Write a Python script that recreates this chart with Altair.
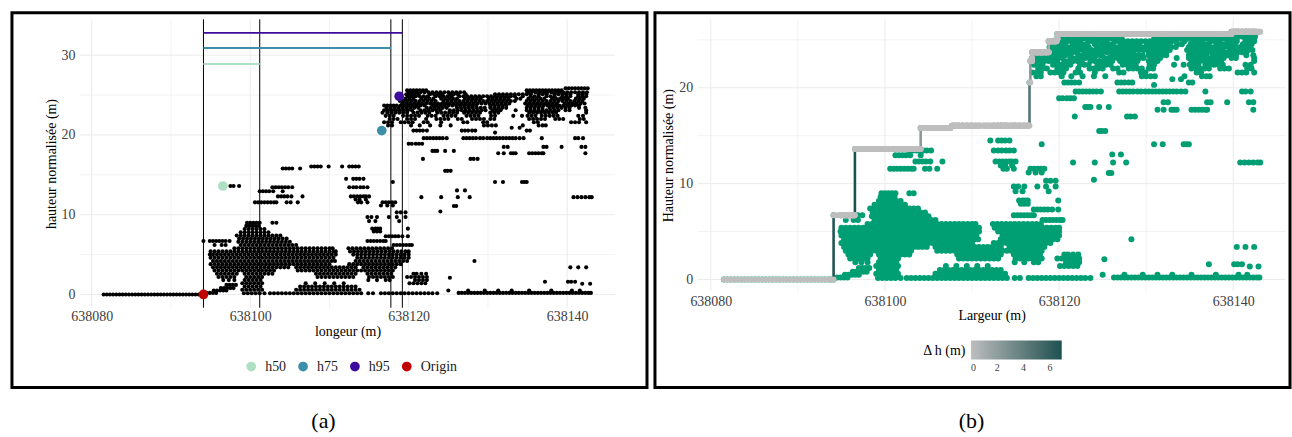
import altair as alt
import pandas as pd

FONT = "Liberation Serif"
X0 = 638000  # positions below are offsets from this easting

# ---- point cloud: (height m, "positions") rows ------------------------------
GROUND_LEFT = [
    (0.0, "81.5 81.9 82.3 82.7 83.1 83.5 83.9 84.3 84.7 85.1 85.5 85.9 86.3 86.7 87.1 87.5 87.9 88.3 "
          "88.7 89.1 89.5 89.9 90.3 90.7 91.1 91.5 91.9 92.3 92.7 93.1 93.5 93.8 94.1"),
]

NEAR_ORIGIN = [
    (0.2, "94.5 94.9 95.3 95.7"),
    (0.5, "95.4 95.8 96.2 96.6 97.0"),
    (0.8, "96.3 96.7 97.1 97.5 97.9"),
    (1.2, "97.0 97.4 97.8 98.2"),
]

LOW_CLUSTER = [
    (9.0, "99.6 100.0 100.4 100.8 101.2 102.8 103.3"),
    (8.6, "99.5 99.9 100.3 100.7 101.1"),
    (8.2, "99.3 99.8 100.3 100.8 101.3 101.8"),
    (7.8, "98.8 99.3 99.8 100.3 100.8 101.3 101.8 102.3"),
    (7.4, "98.3 98.8 99.3 99.8 100.3 100.8 101.3 101.8 102.3 102.8 103.3 103.8"),
    (7.0, "98.6 99.1 99.6 100.1 100.6 101.1 101.6 102.1 102.6 103.1 103.6 104.1 104.6"),
    (6.7, "94.1 94.9 95.3 95.7 96.1 96.5 96.9 97.4 114.8 115.2 115.6 116.0 116.4 116.8 117.1"),
    (6.6, "98.5 99.0 99.5 100.0 100.5 101.0 101.5 102.0 102.5 103.0 103.5 104.0 104.5 105.0"),
    (6.2, "95.5 96.4 96.9 98.8 99.3 99.8 100.3 100.8 101.3 101.8 102.3 102.8 103.3 103.8 104.3 104.8 "
          "105.3 105.8 118.1 118.5 118.9 119.3 119.7 120.1 120.4"),
    (5.8, "98.0 98.5 99.0 99.5 100.0 100.5 101.0 101.5 102.0 102.5 103.0 103.5 104.0 104.5 105.0 105.5 "
          "106.0 106.5 107.0 107.5 108.0 108.5 109.0 109.5 110.0 110.4 112.4 112.9 113.4 113.9 114.4 "
          "114.9 115.4 115.9 116.4 116.9 117.4 117.9"),
    (5.4, "95.0 95.5 96.0 96.5 97.0 97.5 98.0 98.5 99.0 99.5 100.0 100.5 101.0 101.5 102.0 102.5 103.0 "
          "103.5 104.0 104.5 105.0 105.5 106.0 106.5 107.0 107.5 108.0 108.5 109.0 109.5 110.0 110.5 "
          "110.8 112.6 113.1 113.6 114.1 114.6 115.1 115.6 116.1 116.6 117.1 117.6 118.1 118.6 119.1 "
          "119.6 120.0"),
    (5.0, "94.9 95.3 95.8 96.3 96.8 97.3 97.8 98.3 98.8 99.3 99.8 100.3 100.8 101.3 101.8 102.3 102.8 "
          "103.3 103.8 104.3 104.8 105.3 105.8 106.3 106.8 107.3 107.8 108.3 108.8 109.3 109.8 110.3 "
          "110.8 113.0 113.5 114.0 114.5 115.0 115.5 116.0 116.5 117.0 117.5 118.0 118.5 119.0 119.5 "
          "120.0"),
    (4.6, "95.0 95.5 96.0 96.5 97.0 97.5 98.0 98.5 99.0 99.5 100.0 100.5 101.0 101.5 102.0 102.5 103.0 "
          "103.5 104.0 104.5 105.0 105.5 106.0 106.5 107.0 107.5 108.0 108.5 109.0 109.5 110.0 110.5 "
          "113.5 114.0 114.5 115.0 115.5 116.0 116.5 117.0 117.5 118.0 118.5 119.0 119.5 120.0"),
    (4.2, "95.3 95.8 96.3 96.8 97.3 97.8 98.3 98.8 99.3 99.8 100.3 100.8 101.3 101.8 102.3 102.8 103.3 "
          "103.8 104.3 104.8 105.3 105.8 106.3 106.8 107.3 107.8 108.3 108.8 109.3 109.8 110.3 110.7 "
          "113.3 113.8 114.3 114.8 115.3 115.8 116.3 116.8 117.3 117.8 118.3 118.8 119.3 119.8"),
    (3.8, "95.0 95.5 96.0 96.5 97.0 97.5 98.0 98.5 99.0 99.5 100.0 100.5 101.0 101.5 102.0 102.5 103.0 "
          "103.5 104.0 104.5 105.0 105.5 106.0 106.5 107.0 107.5 108.0 108.5 109.0 109.5 110.0 112.5 "
          "113.0 113.5 114.0 114.5 115.0 115.5 116.0 116.5 117.0 117.5 118.0 118.5 119.0"),
    (3.4, "95.3 95.8 96.3 96.8 97.3 97.8 98.3 98.8 99.3 99.8 100.3 100.8 101.3 101.8 102.3 102.8 103.3 "
          "103.8 104.3 104.8 105.8 106.3 106.8 107.3 107.8 108.3 108.8 109.3 109.8 110.3 110.8 111.3 "
          "111.8 112.3 112.8 113.3 114.3 114.8 115.3 115.8 116.3 116.8 117.3 117.8 118.3"),
    (3.0, "95.5 96.0 96.5 97.0 97.5 98.0 98.5 99.0 99.5 100.0 100.5 101.0 101.5 102.0 102.5 103.0 106.0 "
          "106.5 107.0 107.5 108.0 108.5 109.0 109.5 110.0 110.5 111.0 111.5 112.0 112.5 113.0 113.5 "
          "114.0 114.5 115.0 115.5 116.0 116.5 117.0 117.5 118.0"),
    (2.6, "95.8 96.3 96.8 97.3 97.8 98.3 99.3 99.8 100.3 100.8 101.3 101.8 102.3 102.8 108.3 108.8 109.3 "
          "109.8 110.3 110.8 111.3 111.8 112.3 112.8 113.3 114.8 115.3 115.8 116.3 116.8 117.3 117.8 "
          "120.6 121.0 121.6 122.2"),
    (2.2, "96.0 96.5 97.0 97.5 98.0 99.5 100.0 100.5 101.0 101.5 108.5 109.0 109.5 110.0 110.5 111.0 "
          "111.5 112.0 112.5 113.0 115.0 115.5 116.0 116.5 117.0 117.5 118.0 119.8 120.3 120.8 121.3 "
          "121.8 122.3"),
    (1.8, "96.6 97.3 98.0 99.3 99.8 100.3 100.8 101.3 114.9 116.0 117.1 117.6 120.8 121.3 121.8 122.3"),
    (1.4, "99.0 99.5 100.0 100.5 101.0 101.5 107.0 108.2 109.4 110.6 111.8 120.1 120.6 121.1 121.6 122.1"),
    (1.0, "99.3 99.8 100.3 100.8 101.3 106.3 106.8 107.3 107.8 108.3 108.8 109.3 109.8 110.3 110.8 111.3 "
          "111.8 112.3 112.8 113.3"),
    (0.6, "99.0 99.5 100.0 100.5 101.0 101.5 105.8 106.3 106.8 107.3 107.8 108.3 108.8 109.3 109.8 110.3 "
          "110.8 111.3 111.8 112.3 112.8 113.3 113.8"),
    (0.15, "99.2 99.7 100.2 100.7 101.2 101.8 102.5 103.0 103.5 104.0 104.5 105.0 105.5 106.0 106.5 107.0 "
           "107.5 108.0 108.5 109.0 109.5 110.0 110.5 111.0 111.5 112.0 112.5 113.0 113.5 114.0 114.9 "
           "115.5 116.5 117.0 117.5 118.0 118.5 119.0 119.5 120.0 120.5 121.0 121.5 122.0 122.5 123.0 "
           "123.6"),
]

MID_LEVEL = [
    (16.05, "107.7 108.1 108.5 108.9 109.9 111.6 112.5 112.9 113.3 113.7"),
    (15.8, "104.1 104.5 104.9 105.3 106.3"),
    (14.5, "112.1 113.0 113.4 113.8 114.3"),
    (13.6, "96.55 97.5 97.9 98.6"),
    (13.45, "102.8 103.2 103.6 104.0 104.4 104.8 105.3 112.5 113.0 113.4 113.9 114.3 114.8"),
    (12.95, "101.2 101.6 102.0 102.4 102.9 104.1"),
    (12.3, "103.5 103.9 104.3 104.7 105.2 106.6 112.7 113.1 113.5 113.9 114.3 114.6 115.0"),
    (11.9, "113.3 113.8 114.6"),
    (11.55, "100.6 101.0 101.4 101.8 102.2 102.6 103.0 103.3 104.6 105.1 106.0 113.6 114.0 114.8 116.7 "
            "117.1 117.5 117.9 118.3"),
    (11.15, "116.5 117.3 118.0"),
    (10.3, "118.5 119.0 119.6"),
    (9.7, "114.8 115.3 116.0 117.5 118.5 119.6"),
    (9.2, "115.0 115.8 118.8"),
    (8.25, "115.4 115.8 116.1 116.4 119.9"),
    (7.9, "115.6 116.0 116.4"),
    (7.3, "117.1 117.5 117.9 118.3 118.7 119.2 119.9"),
]

CANOPY = [
    (25.85, "139.8 140.2 140.6 141.0 141.4 141.8 142.2 142.6"),
    (25.6, "119.8 120.2 120.6 121.0 121.4 121.8 122.2 134.9 135.3 135.7 136.1 136.5 136.9 137.3 137.7 "
           "138.1 138.5 138.9 139.3"),
    (25.35, "120.0 120.5 121.0 121.5 122.0 122.5 123.0 123.5 124.0 124.5 125.0 125.5 126.0 126.5 127.0 "
            "135.0 135.5 136.0 136.5 137.0 137.5 138.0 138.5 139.0 139.5 140.0 140.5 141.0 141.5 142.0 "
            "142.5"),
    (25.1, "119.7 120.2 120.7 121.2 122.7 123.2 123.7 124.2 125.2 125.7 126.2 127.2 130.9 131.4 131.9 "
           "132.4 132.9 133.4 133.9 134.4 134.9 135.4 136.4 136.9 137.4 138.4 138.9 139.4 139.9 140.4 "
           "141.4 141.9 142.4"),
    (24.85, "118.8 119.9 120.4 120.9 121.4 121.9 122.4 123.4 123.9 124.4 124.9 125.4 126.4 126.9 127.4 "
            "127.9 128.4 128.9 129.4 129.9 130.4 130.9 131.4 131.9 132.4 132.9 133.4 134.4 135.4 135.9 "
            "136.4 137.4 137.9 138.4 139.4 139.9 140.4 141.4 141.9 142.4"),
    (24.55, "119.1 119.6 120.1 120.6 121.6 122.1 122.6 123.1 124.1 124.6 125.1 125.6 126.1 127.1 127.6 "
            "128.1 128.6 129.1 130.1 130.6 131.1 131.6 132.1 132.6 133.6 134.1 135.1 135.6 136.1 136.6 "
            "137.1 138.1 138.6 139.1 139.6 140.1 141.1 141.6 142.1"),
    (24.25, "118.9 119.4 119.9 120.4 120.9 121.4 121.9 122.4 122.9 123.4 124.4 124.9 125.4 125.9 126.4 "
            "126.9 127.4 127.9 128.4 128.9 129.4 129.9 130.4 130.9 131.4 131.9 132.4 132.9 133.4 134.9 "
            "135.4 135.9 136.4 136.9 137.4 137.9 138.4 138.9 139.4 139.9 140.4 140.9 141.4 141.9"),
    (23.95, "119.2 119.7 120.2 120.7 121.2 121.7 122.2 122.7 123.2 123.7 124.2 124.7 125.2 125.7 126.2 "
            "126.7 127.2 127.7 128.2 128.7 129.2 129.7 130.2 130.7 131.2 131.7 132.2 132.7 134.7 135.2 "
            "135.7 136.2 136.7 137.2 137.7 138.2 138.7 139.7 140.2 140.7 141.2 141.7 142.2"),
    (23.7, "116.9 117.3 117.7 118.1 118.5 119.0 119.5 120.0 120.5 121.0 121.5 122.0 123.0 123.5 124.0 "
           "124.5 125.0 125.5 126.0 126.5 127.0 127.5 128.0 128.5 130.3 130.8 131.3 131.8 132.3 135.0 "
           "135.5 136.0 136.5 137.0 137.5 138.0 138.5 139.0 139.5 140.0 140.5 141.0 141.5"),
    (23.4, "117.2 117.7 118.2 118.7 119.2 119.7 120.2 120.7 121.2 122.3 122.8 123.3 123.8 124.3 124.8 "
           "126.1 126.6 127.1 127.6 128.1 128.6 129.1 129.6 130.3 130.8 131.3 131.8 132.3 134.9 135.4 "
           "135.9 136.4 136.9 137.8 138.3 138.8 139.3 139.8 140.3 141.5 142.3"),
    (23.1, "116.9 117.4 117.9 118.4 118.9 119.4 119.9 120.4 121.5 122.0 122.5 123.0 123.5 124.0 125.2 "
           "125.7 126.2 126.7 127.2 127.7 128.2 128.7 129.2 129.7 130.6 131.1 131.6 133.5 134.9 135.4 "
           "135.9 136.4 136.9 137.4 137.9 138.4 138.9 139.8 140.3 142.4"),
    (22.8, "116.7 117.3 117.8 118.3 118.8 119.3 119.8 120.6 121.1 121.6 122.1 122.6 123.6 124.1 124.6 "
           "125.1 125.6 126.1 127.0 127.5 128.0 128.5 129.0 130.3 130.8 131.3 135.2 135.7 136.2 136.7 "
           "137.2 137.7 138.2 138.6 142.4"),
    (22.4, "117.1 117.6 118.1 119.3 119.8 120.3 120.8 121.3 122.4 122.9 123.4 124.4 124.9 125.4 125.9 "
           "127.3 127.8 128.3 128.8 130.4 130.9 133.2 134.3 135.0 135.5 136.0 136.8 137.3 137.8 138.3 "
           "138.8 141.4 142.0"),
    (22.0, "117.6 118.1 118.6 119.8 120.3 120.8 122.2 123.5 124.0 124.5 125.0 126.2 126.7 128.0 128.5 "
           "129.0 129.5 130.3 130.8 135.2 135.7 136.2 136.7 137.2 138.5 139.0 139.5 141.6 142.1"),
    (21.6, "116.9 117.4 117.9 119.0 119.5 120.0 120.5 121.9 122.4 124.1 126.9 127.4 129.4 129.9 135.8 "
           "136.3 140.5 141.0 141.5 142.4"),
    (21.2, "117.4 117.9 120.3 121.4 122.7 124.0 125.3 129.5 130.0 130.5 131.0 134.4 136.4 136.9 137.3"),
    (20.9, "133.0 134.0"),
    (20.55, "116.6 120.6 121.0 121.4 121.8 122.3 126.7 127.1 127.5 128.0 128.4 134.9 135.3"),
    (20.3, "130.9"),
    (19.6, "121.9 122.3 122.7 123.1 123.5 123.9 124.3 124.8 126.9 127.3 127.7 128.1 128.5 129.0 129.4 "
           "129.9 130.3 130.7 131.1 131.5 131.9 132.3 132.7 133.1 133.5 134.0 134.5 136.8 141.0 141.4 "
           "142.0"),
    (18.9, "120.0 120.4 120.9 121.3 121.7"),
    (18.5, "132.0 132.5 137.0 137.4 139.3 141.8 142.3"),
    (18.0, "123.0 123.3 123.6 124.6 125.7"),
    (17.7, "131.3 132.0 132.9 133.2 133.5 135.2 135.6 136.0 136.4 136.8 137.0 142.3"),
    (17.0, "121.8 127.8 128.2 128.7"),
    (15.5, "124.6 124.9 125.3"),
    (14.1, "118.0 130.9 131.9 134.3 134.6 134.9"),
    (13.05, "126.1 127.1"),
    (12.2, "121.6 124.1 126.2 127.7 140.8 141.3 141.8 142.3 142.8 143.1"),
    (11.1, "125.7 126.0"),
    (10.4, "124.0"),
]

RIGHT_LOW = [
    (4.2, "128.3"),
    (3.4, "140.4 141.4 142.4"),
    (2.1, "125.2"),
    (1.6, "137.2 140.1 140.5 141.0"),
    (1.35, "141.9 142.9"),
    (0.5, "125.0 127.5 129.6 131.3 133.0 135.2 138.0 140.6 141.6"),
    (0.2, "126.3 126.7 127.1 127.5 127.9 128.3 128.7 129.1 129.5 129.9 130.3 130.7 131.1 131.5 131.9 "
          "132.3 132.7 133.1 133.5 133.9 134.3 134.7 135.1 135.5 135.9 136.3 136.7 137.1 137.5 137.9 "
          "138.3 138.7 139.1 139.5 139.9 140.3 140.7 141.1 141.5 141.9 142.3 142.7 143.0"),
]

# ---- reference heights (panel a) --------------------------------------------
MARK_NAMES = ["h50", "h75", "h95", "Origin"]
MARK_X = [96.55, 116.6, 118.8, 94.1]
MARK_H = [13.6, 20.55, 24.85, 0.0]
MARK_COLORS = ["#ade0c3", "#3b8fa8", "#3d0c9e", "#c00000"]

SEG_NAMES = ["h50", "h75", "h95"]
SEG_START = 94.1
SEG_END = [101.2, 117.75, 119.2]
SEG_LEVEL = [28.9, 30.9, 32.8]
VLINES = [94.1, 101.2, 117.75, 119.2]

# ---- axes ---------------------------------------------------------------------
X_MAJOR = [638080, 638100, 638120, 638140]
X_MINOR = [638090, 638110, 638130]
YA_MAJOR = [0, 10, 20, 30]
YB_MAJOR = [0, 10, 20]
Y_MINOR = [5, 15, 25]

XA_DOM, YA_DOM = [638078.5, 638146.05], [-1.66, 34.5]
XB_DOM, YB_DOM = [638078.5, 638146.0], [-1.21, 27.14]

W, H = 637, 376

rows = GROUND_LEFT + NEAR_ORIGIN + LOW_CLUSTER + MID_LEVEL + CANOPY + RIGHT_LOW
pts = pd.DataFrame([{"x": X0 + float(v), "h": h} for h, xs in rows for v in xs.split()])

# running maximum of height along the transect, and its increments
env = pts.sort_values(["x", "h"]).reset_index(drop=True)
env["hmax"] = env["h"].cummax()
env["prev"] = env["hmax"].shift(1).fillna(env["hmax"].iloc[0])
env["dh"] = env["hmax"] - env["prev"]
jumps = env[env["dh"] > 0].copy()
DH_MAX = float(jumps["dh"].max())

marks = pd.DataFrame({"name": MARK_NAMES, "x": [X0 + v for v in MARK_X], "h": MARK_H})
segs = pd.DataFrame({"name": SEG_NAMES, "x0": X0 + SEG_START,
                     "x1": [X0 + v for v in SEG_END], "y": SEG_LEVEL})


def x_axis(title, offset, label_pad, title_pad):
    return alt.Axis(title=title, values=X_MAJOR, format="d", offset=offset, grid=False,
                    domain=False, ticks=False, labelPadding=label_pad, titlePadding=title_pad,
                    labelFlush=False, labelFontSize=14, titleFontSize=14,
                    labelColor="#404040", titleColor="#000000", titleFontWeight="normal")


def y_axis(title, offset, values, pad):
    return alt.Axis(title=title, values=values, format="d", offset=offset, grid=False,
                    domain=False, ticks=False, labelPadding=5, titlePadding=pad,
                    labelFlush=False, labelFontSize=14, titleFontSize=14,
                    labelColor="#404040", titleColor="#000000", titleFontWeight="normal")


def panel(xs, ys, ax, ay, ymaj, xdom, ydom, layers_fn):
    """Grid + data layers sharing the same position scales and axes."""
    X = lambda f: alt.X(f, scale=xs, axis=ax)
    Y = lambda f: alt.Y(f, scale=ys, axis=ay)
    gv = pd.DataFrame({"x": X_MAJOR + X_MINOR,
                       "w": [1.0] * len(X_MAJOR) + [0.6] * len(X_MINOR),
                       "y0": ydom[0], "y1": ydom[1]})
    gh = pd.DataFrame({"y": ymaj + Y_MINOR,
                       "w": [1.0] * len(ymaj) + [0.6] * len(Y_MINOR),
                       "x0": xdom[0], "x1": xdom[1]})
    grid = [
        alt.Chart(gv).mark_rule(color="#ebebeb").encode(
            x=X("x:Q"), y=Y("y0:Q"), y2="y1:Q",
            strokeWidth=alt.StrokeWidth("w:Q", scale=None)),
        alt.Chart(gh).mark_rule(color="#ebebeb").encode(
            y=Y("y:Q"), x=X("x0:Q"), x2="x1:Q",
            strokeWidth=alt.StrokeWidth("w:Q", scale=None)),
    ]
    return alt.layer(*grid, *layers_fn(X, Y))


# ---- panel (a) ---------------------------------------------------------------
XA = alt.Scale(domain=XA_DOM, range=[68.1, 605.0], nice=False, zero=False)
YA = alt.Scale(domain=YA_DOM, range=[296.0, 6.7], nice=False, zero=False)
CA = alt.Scale(domain=MARK_NAMES, range=MARK_COLORS)
LEG_A = alt.Legend(title=None, orient="none", legendX=233, legendY=348, direction="horizontal",
                   symbolType="circle", symbolSize=95, symbolStrokeWidth=0, labelFontSize=14,
                   labelColor="#1a1a1a", labelOffset=7, columnPadding=10, padding=0)

vl_df = pd.DataFrame({"x": [X0 + v for v in VLINES], "y0": YA_DOM[0], "y1": YA_DOM[1]})


def layers_a(X, Y):
    return [
        alt.Chart(pts).mark_circle(color="#000000", size=17, opacity=1).encode(
            x=X("x:Q"), y=Y("h:Q")),
        alt.Chart(vl_df).mark_rule(color="#000000", strokeWidth=1).encode(
            x=X("x:Q"), y=Y("y0:Q"), y2="y1:Q"),
        alt.Chart(segs).mark_rule(strokeWidth=2).encode(
            x=X("x0:Q"), x2="x1:Q", y=Y("y:Q"),
            color=alt.Color("name:N", scale=CA, legend=LEG_A)),
        alt.Chart(marks).mark_circle(size=95, opacity=1).encode(
            x=X("x:Q"), y=Y("h:Q"),
            color=alt.Color("name:N", scale=CA, legend=LEG_A)),
    ]


panel_a = panel(
    XA, YA, x_axis("longeur (m)", -(H - 296.0), 2, 1),
    y_axis("hauteur normalisée (m)", -68.1, YA_MAJOR, 2),
    YA_MAJOR, XA_DOM, YA_DOM, layers_a,
).properties(
    width=W, height=H,
    title=alt.TitleParams("(a)", orient="bottom", anchor="middle", fontSize=22,
                          fontWeight="normal", offset=24, dx=-6, color="#000000"),
)

# ---- panel (b) ---------------------------------------------------------------
XB = alt.Scale(domain=XB_DOM, range=[42.9, 632.5], nice=False, zero=False)
YB = alt.Scale(domain=YB_DOM, range=[279.3, 6.7], nice=False, zero=False)


def layers_b(X, Y):
    return [
        alt.Chart(pts).mark_circle(color="#009e73", size=36, opacity=1).encode(
            x=X("x:Q"), y=Y("h:Q")),
        alt.Chart(jumps).mark_rule(strokeWidth=2.6).encode(
            x=X("x:Q"), y=Y("prev:Q"), y2="hmax:Q",
            color=alt.Color("dh:Q",
                            scale=alt.Scale(domain=[0, DH_MAX], range=["#bebebe", "#1c5151"]),
                            legend=alt.Legend(
                                title="Δ h (m)", orient="none", legendX=269, legendY=329,
                                direction="horizontal", titleOrient="left", gradientLength=91,
                                gradientThickness=19, values=[0, 2, 4, 6], labelFontSize=10,
                                labelColor="#404040", titleFontSize=14, titleFontWeight="normal",
                                titleColor="#000000", gradientStrokeWidth=0, titlePadding=4,
                                labelOffset=3, padding=0))),
        alt.Chart(env).mark_circle(color="#bebebe", size=36, opacity=1).encode(
            x=X("x:Q"), y=Y("hmax:Q")),
    ]


panel_b = panel(
    XB, YB, x_axis("Largeur (m)", -(H - 279.3), 3, 1),
    y_axis("Hauteur normalisée (m)", -42.9, YB_MAJOR, 3),
    YB_MAJOR, XB_DOM, YB_DOM, layers_b,
).properties(
    width=W, height=H,
    title=alt.TitleParams("(b)", orient="bottom", anchor="middle", fontSize=22,
                          fontWeight="normal", offset=24, dx=-1, color="#000000"),
)

chart = alt.hconcat(panel_a, panel_b, spacing=4).properties(
    padding={"left": 10, "top": 10, "right": 0, "bottom": 0},
    background="#ffffff",
).configure_view(
    stroke="#000000", strokeWidth=3,
).configure_axis(
    labelFont=FONT, titleFont=FONT,
).configure_legend(
    labelFont=FONT, titleFont=FONT,
).configure_title(
    font=FONT,
)

chart.save("out.html", embed_options={"renderer": "svg", "actions": False})
